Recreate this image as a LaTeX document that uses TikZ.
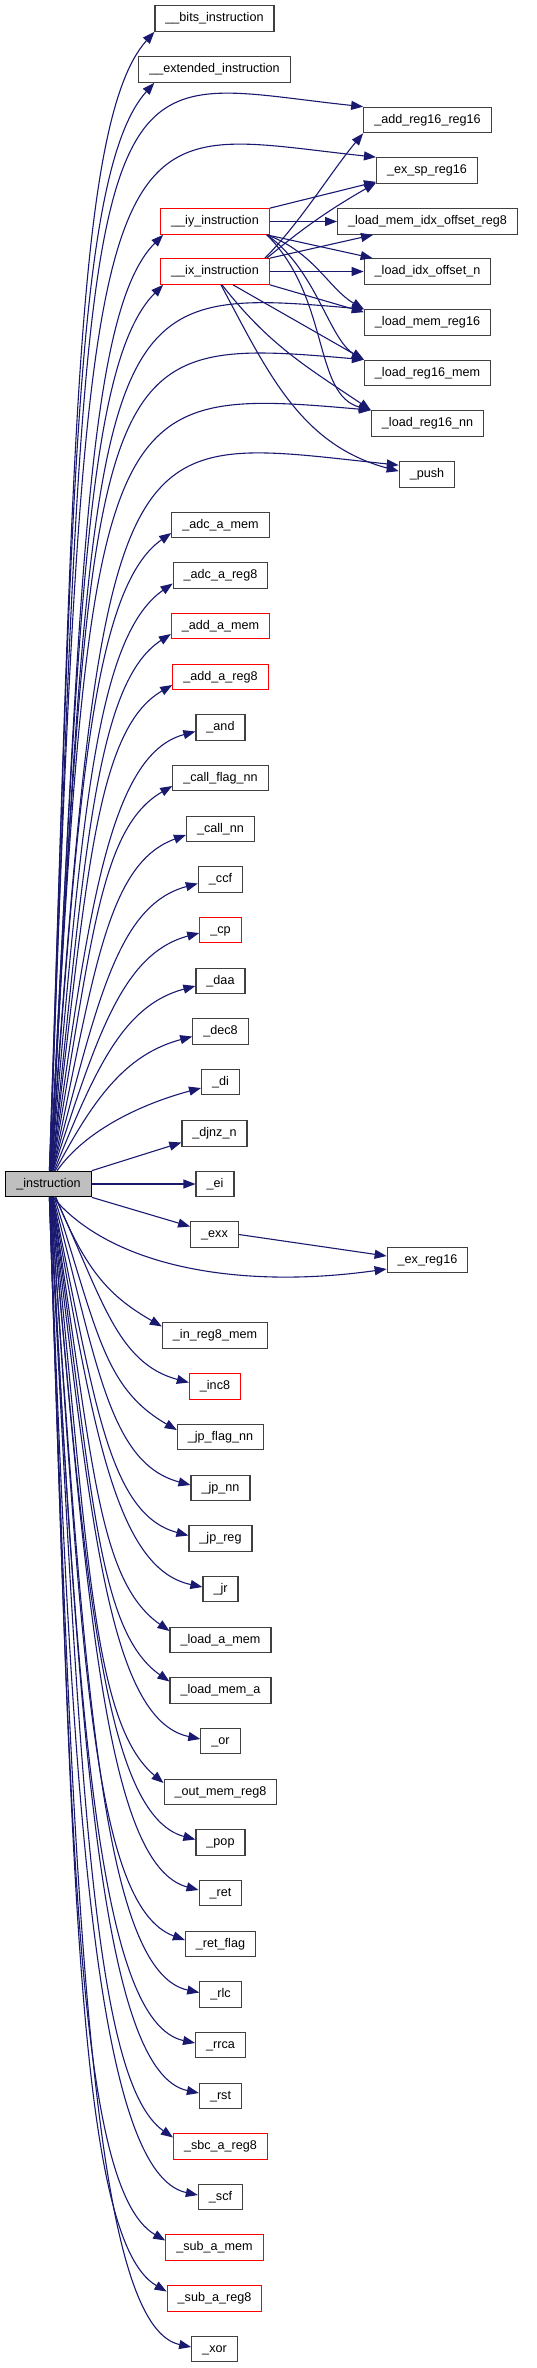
\documentclass[tikz,border=0pt]{standalone}
\usepackage{fontspec}
\setmainfont{Liberation Sans}
\usetikzlibrary{arrows.meta}
\definecolor{edgeblue}{HTML}{191970}
\definecolor{rootgray}{HTML}{BFBFBF}

\begin{document}
\begin{tikzpicture}[x=1pt, y=1pt,
  fn/.style={draw=black!75, line width=1.2pt, inner xsep=10.5pt, inner ysep=0pt,
    minimum height=25.5pt, text height=9.2pt, text depth=2.8pt,
    font=\fontsize{12.6}{15}\selectfont},
  fnred/.style={fn, draw=red},
  call/.style={draw=edgeblue, line width=1.1pt, -{Triangle[length=12pt,width=9pt]}}]
  \useasboundingbox (0,0) rectangle (537,-2368);

  % Caller.
  \node[fn, fill=rootgray, draw=black] (instr) at (48.5,-1184) {\_instruction};

  % Callees, left column.
  \node[fn] (bits) at (214.5,-18.5) {\_\_bits\_instruction};
  \node[fn] (ext) at (214.5,-69.5) {\_\_extended\_instruction};
  \node[fnred] (iy) at (215,-221.5) {\_\_iy\_instruction};
  \node[fnred] (ix) at (215,-271.5) {\_\_ix\_instruction};
  \node[fn] (adcm) at (220.5,-525) {\_adc\_a\_mem};
  \node[fn] (adcr) at (220.5,-575.5) {\_adc\_a\_reg8};
  \node[fnred] (addm) at (220.5,-626) {\_add\_a\_mem};
  \node[fnred] (addr) at (220.5,-677) {\_add\_a\_reg8};
  \node[fn] (and) at (220.5,-727.5) {\_and};
  \node[fn] (cfnn) at (220.5,-778) {\_call\_flag\_nn};
  \node[fn] (cnn) at (220.5,-829) {\_call\_nn};
  \node[fn] (ccf) at (220.5,-879.5) {\_ccf};
  \node[fnred] (cp) at (220.5,-930) {\_cp};
  \node[fn] (daa) at (220.5,-981) {\_daa};
  \node[fn] (dec8) at (220.5,-1031.5) {\_dec8};
  \node[fn] (di) at (220.5,-1082) {\_di};
  \node[fn] (djnz) at (214.5,-1133.5) {\_djnz\_n};
  \node[fn] (ei) at (215,-1184) {\_ei};
  \node[fn] (exx) at (214.5,-1234.5) {\_exx};
  \node[fn] (inr8m) at (215,-1335.5) {\_in\_reg8\_mem};
  \node[fnred] (inc8) at (215,-1386.5) {\_inc8};
  \node[fn] (jpfnn) at (220.5,-1437) {\_jp\_flag\_nn};
  \node[fn] (jpnn) at (220.5,-1488) {\_jp\_nn};
  \node[fn] (jpreg) at (220.5,-1538.5) {\_jp\_reg};
  \node[fn] (jr) at (220.5,-1589) {\_jr};
  \node[fn] (lam) at (220.5,-1640) {\_load\_a\_mem};
  \node[fn] (lma) at (220.5,-1690.5) {\_load\_mem\_a};
  \node[fn] (or) at (220.5,-1741) {\_or};
  \node[fn] (outmr8) at (220.5,-1792) {\_out\_mem\_reg8};
  \node[fn] (pop) at (220.5,-1842.5) {\_pop};
  \node[fn] (ret) at (220.5,-1893) {\_ret};
  \node[fn] (retf) at (220.5,-1944) {\_ret\_flag};
  \node[fn] (rlc) at (220.5,-1994.5) {\_rlc};
  \node[fn] (rrca) at (220.5,-2045) {\_rrca};
  \node[fn] (rst) at (220.5,-2096) {\_rst};
  \node[fnred] (sbcr8) at (220.5,-2146.5) {\_sbc\_a\_reg8};
  \node[fn] (scf) at (220.5,-2197) {\_scf};
  \node[fnred] (subm) at (214.5,-2247.5) {\_sub\_a\_mem};
  \node[fnred] (subr8) at (214.5,-2298.5) {\_sub\_a\_reg8};
  \node[fn] (xor) at (214.5,-2349) {\_xor};

  % Callees, right column.
  \node[fn] (addrr) at (427.5,-120) {\_add\_reg16\_reg16};
  \node[fn] (exsp) at (427,-170.5) {\_ex\_sp\_reg16};
  \node[fn] (lmior8) at (427.5,-221.5) {\_load\_mem\_idx\_offset\_reg8};
  \node[fn] (lion) at (427.5,-271.5) {\_load\_idx\_offset\_n};
  \node[fn] (lmr16) at (427.5,-322.5) {\_load\_mem\_reg16};
  \node[fn] (lr16m) at (427.5,-373) {\_load\_reg16\_mem};
  \node[fn] (lr16nn) at (427.5,-423.5) {\_load\_reg16\_nn};
  \node[fn] (push) at (427,-474.5) {\_push};
  \node[fn] (exr16) at (427.5,-1260) {\_ex\_reg16};

  % Calls going up, left column.
  \draw[call] ([xshift=0.9pt]instr.north) .. controls +(24,700) and +(-80,-89) .. (bits.south west);
  \draw[call] ([xshift=0.9pt]instr.north) .. controls +(23,660) and +(-80,-89) .. ([xshift=16pt]ext.south west);
  \draw[call] ([xshift=1.8pt]instr.north) .. controls +(30,569) and +(-78,-78) .. ([xshift=3pt]iy.south west);
  \draw[call] ([xshift=1.8pt]instr.north) .. controls +(28,539) and +(-78,-78) .. ([xshift=3pt]ix.south west);
  \draw[call] ([xshift=2.7pt]instr.north) .. controls +(26.5,379) and +(-78,-54.5) .. ([yshift=-8pt]adcm.west);
  \draw[call] ([xshift=2.7pt]instr.north) .. controls +(30.5,349) and +(-78,-54.5) .. ([yshift=-8pt]adcr.west);
  \draw[call] ([xshift=3.2pt]instr.north) .. controls +(33.4,318) and +(-75.5,-49) .. ([yshift=-8pt]addm.west);
  \draw[call] ([xshift=3.2pt]instr.north) .. controls +(35.3,288) and +(-78,-45) .. ([yshift=-8pt]addr.west);
  \draw[call] ([xshift=3.6pt]instr.north) .. controls +(36.2,257.5) and +(-87,-23.3) .. ([yshift=-4pt]and.west);
  \draw[call] ([xshift=3.6pt]instr.north) .. controls +(40,226.5) and +(-73.6,-42.5) .. ([yshift=-8pt]cfnn.west);
  \draw[call] ([xshift=4.1pt]instr.north) .. controls +(41.6,195.6) and +(-80,-29) .. ([yshift=-6pt]cnn.west);
  \draw[call] ([xshift=4.1pt]instr.north) .. controls +(44,164.2) and +(-82,-22) .. ([yshift=-4pt]ccf.west);
  \draw[call] ([xshift=4.6pt]instr.north) .. controls +(43.3,133.1) and +(-77.3,-20.7) .. ([yshift=-3pt]cp.west);
  \draw[call] ([xshift=5.7pt]instr.north) .. controls +(41.2,102) and +(-72.4,-19.4) .. ([yshift=-5pt]daa.west);
  \draw[call] ([xshift=6.8pt]instr.north) .. controls +(37.6,70.6) and +(-67.6,-18.1) .. ([yshift=-5pt]dec8.west);
  \draw[call] ([xshift=8.6pt]instr.north) .. controls +(28.7,41) and +(-58,-15.5) .. ([yshift=-6pt]di.west);

  % Calls going up, right column.
  \draw[call] ([xshift=1.3pt]instr.north) .. controls +(40.8,1169) and +(-278.5,29.3) .. (addrr.north west);
  \draw[call] ([xshift=1.3pt]instr.north) .. controls +(38.7,1109) and +(-278.5,29.3) .. (exsp.north west);
  \draw[call] ([xshift=2.2pt]instr.north) .. controls +(46,879) and +(-269,23.5) .. (lmr16.north west);
  \draw[call] ([xshift=2.2pt]instr.north) .. controls +(43.4,829) and +(-269,23.5) .. (lr16m.north west);
  \draw[call] ([xshift=2.2pt]instr.north) .. controls +(40.8,779) and +(-269,23.5) .. (lr16nn.north west);
  \draw[call] ([xshift=2.2pt]instr.north) .. controls +(53.7,768) and +(-278.5,29.3) .. ([yshift=-4pt]push.north west);

  % Straight calls next to the caller.
  \draw[call] (instr.north east) -- ([yshift=-9pt]djnz.west);
  \draw[call] (instr.east) -- (ei.west);
  \draw[call] (instr.south east) -- ([yshift=8pt]exx.west);
  \draw[call] (exx.east) -- ([yshift=4pt]exr16.west);
  \draw[call] ([xshift=4.6pt]instr.south) .. controls +(57.9,-68.9) and +(-148.5,-20.9) .. ([yshift=-9pt]exr16.west);

  % Calls going down.
  \draw[call] ([xshift=7.4pt]instr.south) .. controls +(30,-74.2) and +(-52,30) .. ([yshift=9pt]inr8m.west);
  \draw[call] ([xshift=6.8pt]instr.south) .. controls +(46.5,-99.7) and +(-72.4,19.4) .. ([yshift=4pt]inc8.west);
  \draw[call] ([xshift=5.7pt]instr.south) .. controls +(43.3,-133.1) and +(-73.6,42.5) .. ([yshift=7pt]jpfnn.west);
  \draw[call] ([xshift=4.6pt]instr.south) .. controls +(44,-164.2) and +(-82,22) .. ([yshift=3pt]jpnn.west);
  \draw[call] ([xshift=4.1pt]instr.south) .. controls +(41.6,-195.6) and +(-82,22) .. ([yshift=3pt]jpreg.west);
  \draw[call] ([xshift=4.1pt]instr.south) .. controls +(40,-226.5) and +(-88,18.7) .. ([yshift=2pt]jr.west);
  \draw[call] ([xshift=3.6pt]instr.south) .. controls +(40.7,-256.8) and +(-73.7,51.6) .. ([yshift=9pt]lam.west);
  \draw[call] ([xshift=3.6pt]instr.south) .. controls +(40.4,-287.2) and +(-73.7,51.6) .. ([yshift=9pt]lma.west);
  \draw[call] ([xshift=3.2pt]instr.south) .. controls +(39,-317.6) and +(-93,19.8) .. ([yshift=2pt]or.west);
  \draw[call] ([xshift=3.2pt]instr.south) .. controls +(36.6,-348) and +(-72.8,61) .. ([yshift=9pt]outmr8.west);
  \draw[call] ([xshift=2.7pt]instr.south) .. controls +(33.6,-383.5) and +(-91.8,24.6) .. ([yshift=3pt]pop.west);
  \draw[call] ([xshift=2.7pt]instr.south) .. controls +(36.2,-413.4) and +(-91.8,24.6) .. ([yshift=3pt]ret.west);
  \draw[call] ([xshift=2.2pt]instr.south) .. controls +(31,-444) and +(-94,34.2) .. ([yshift=4pt]retf.west);
  \draw[call] ([xshift=2.2pt]instr.south) .. controls +(33.5,-479) and +(-97.8,20.8) .. ([yshift=2pt]rlc.west);
  \draw[call] ([xshift=1.8pt]instr.south) .. controls +(26.7,-509.3) and +(-97.8,20.8) .. ([yshift=2pt]rrca.west);
  \draw[call] ([xshift=1.8pt]instr.south) .. controls +(28.3,-539.3) and +(-97.8,20.8) .. ([yshift=3pt]rst.west);
  \draw[call] ([xshift=1.3pt]instr.south) .. controls +(29.6,-564.2) and +(-82,57.4) .. ([yshift=9pt]sbcr8.west);
  \draw[call] ([xshift=1.3pt]instr.south) .. controls +(21,-599.6) and +(-102.7,21.8) .. ([yshift=2pt]scf.west);
  \draw[call] ([xshift=0.9pt]instr.south) .. controls +(21.8,-624.6) and +(-91,52.5) .. ([yshift=7pt]subm.west);
  \draw[call] ([xshift=0.9pt]instr.south) .. controls +(22.9,-654.6) and +(-91,52.5) .. ([yshift=7pt]subr8.west);
  \draw[call] ([xshift=0.9pt]instr.south) .. controls +(24,-689.6) and +(-102.7,21.8) .. ([yshift=2pt]xor.west);

  % Calls made by __iy_instruction.
  \draw[call] (iy.north east) -- ([yshift=2pt]exsp.south west);
  \draw[call] (iy.east) -- (lmior8.west);
  \draw[call] ([xshift=-3pt]iy.south east) -- ([xshift=9pt]lion.north west);
  \draw[call] ([xshift=-3pt]iy.south east) .. controls +(47,-17.1) and +(-34.6,20) .. (lmr16.north west);
  \draw[call] ([xshift=-3pt]iy.south east) .. controls +(49.1,-34.4) and +(-34.6,20) .. (lr16m.north west);
  \draw[call] ([xshift=-3pt]iy.south east) .. controls +(63.6,-63.6) and +(-58,15.5) .. (lr16nn.north west);

  % Calls made by __ix_instruction.
  \draw[call] ([xshift=-5pt]ix.north east) .. controls +(35.4,35.4) and +(-32.1,-38.3) .. (addrr.south west);
  \draw[call] ([xshift=-3pt]ix.north east) .. controls +(38.3,32.1) and +(-43.3,-25) .. ([yshift=1pt]exsp.south west);
  \draw[call] (ix.north east) -- ([xshift=36pt]lmior8.south west);
  \draw[call] (ix.east) -- (lion.west);
  \draw[call] (ix.south east) -- ([yshift=-3pt]lmr16.north west);
  \draw[call] ([xshift=18pt]ix.south) -- (lr16m.north west);
  \draw[call] ([xshift=7pt]ix.south) .. controls +(47.4,-60.7) and +(-63.8,43) .. (lr16nn.north west);
  \draw[call] ([xshift=6pt]ix.south) .. controls +(47.4,-89.2) and +(-97.6,26.1) .. ([yshift=-10pt]push.north west);
\end{tikzpicture}
\end{document}
